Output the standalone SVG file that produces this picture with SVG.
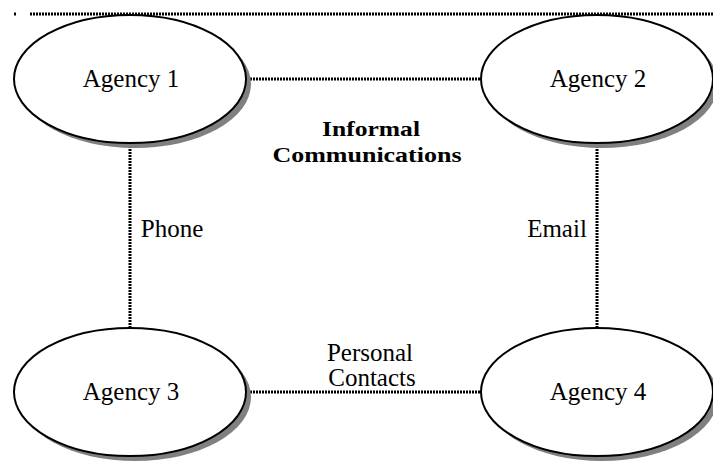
<svg xmlns="http://www.w3.org/2000/svg" width="713" height="464" viewBox="0 0 713 464">
<style>
.sh{fill:#808080;stroke:none}
.el{fill:#fff;stroke:#000;stroke-width:2}
.t{font-family:"Liberation Serif",serif;font-size:25px;text-anchor:middle;fill:#000}
.b{font-weight:bold;font-size:22px}
.d{stroke:#000;stroke-width:3;stroke-dasharray:2 1;fill:none}
</style>
<rect width="713" height="464" fill="#fff"/>
<g id="connectors">
<line class="d" x1="14" y1="14" x2="16" y2="14"/>
<line class="d" x1="30" y1="14" x2="713" y2="14"/>
<line class="d" x1="250" y1="79" x2="482" y2="79"/>
<line class="d" x1="130" y1="146" x2="130" y2="327"/>
<line class="d" x1="597" y1="146" x2="597" y2="327"/>
<line class="d" x1="250" y1="392" x2="482" y2="392"/>
</g>
<g id="agency1">
<ellipse class="sh" cx="135" cy="84" rx="116" ry="64"/>
<ellipse class="el" cx="130" cy="79" rx="116" ry="64"/>
<text class="t" x="131" y="87">Agency 1</text>
</g>
<g id="agency2">
<ellipse class="sh" cx="602" cy="84" rx="116" ry="64"/>
<ellipse class="el" cx="597" cy="79" rx="116" ry="64"/>
<text class="t" x="598" y="87">Agency 2</text>
</g>
<g id="agency3">
<ellipse class="sh" cx="135" cy="397" rx="116" ry="64"/>
<ellipse class="el" cx="130" cy="392" rx="116" ry="64"/>
<text class="t" x="131" y="400">Agency 3</text>
</g>
<g id="agency4">
<ellipse class="sh" cx="602" cy="397" rx="116" ry="64"/>
<ellipse class="el" cx="597" cy="392" rx="116" ry="64"/>
<text class="t" x="598" y="400">Agency 4</text>
</g>
<g id="labels">
<text class="t b" x="371" y="136" textLength="98" lengthAdjust="spacingAndGlyphs">Informal</text>
<text class="t b" x="367" y="162" textLength="189" lengthAdjust="spacingAndGlyphs">Communications</text>
<text class="t" x="172" y="237">Phone</text>
<text class="t" x="557" y="237">Email</text>
<text class="t" x="370" y="361" font-size="23">Personal</text>
<text class="t" x="372" y="386" font-size="23">Contacts</text>
</g>
</svg>
